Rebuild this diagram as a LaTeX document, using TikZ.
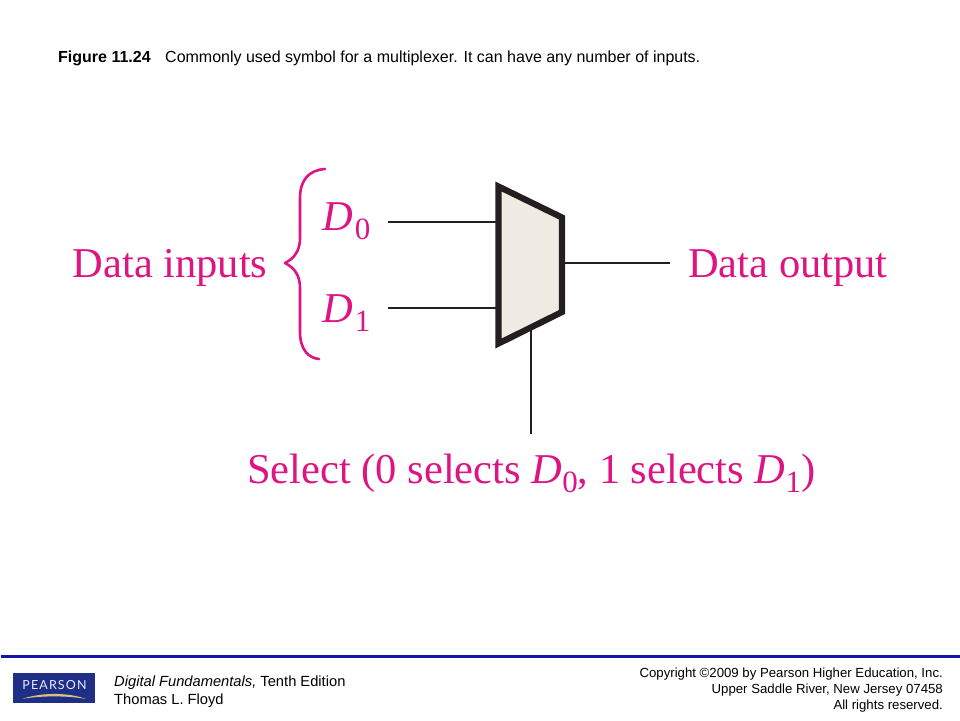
\documentclass[tikz,border=0pt]{standalone}
\usepackage{fontspec}
\setmainfont{Liberation Serif}
\newfontfamily\arialf{Liberation Sans}
\newfontfamily\logof[LetterSpace=9]{Lato}
\definecolor{pinkc}{HTML}{DC1583}
\definecolor{barblue}{HTML}{1515A5}
\definecolor{logoblue}{HTML}{1F2E86}
\definecolor{swoosh}{HTML}{D8C27A}
\definecolor{muxfill}{HTML}{F0EBE3}
\definecolor{inkc}{HTML}{231F20}
\newcommand{\subdigit}[1]{\kern1.5pt\raisebox{-0.22em}{\fontsize{31}{34}\selectfont #1}}
\tikzset{
  sansnote/.style={font=\arialf\fontsize{16}{18}\selectfont,inner sep=0pt,anchor=base west,text=black},
  footnote/.style={font=\arialf\fontsize{14.7}{17}\selectfont,inner sep=0pt,anchor=base west,text=black},
  rightnote/.style={font=\arialf\fontsize{13.2}{15}\selectfont,inner sep=0pt,anchor=base east,text=black},
  pinklabel/.style={font=\fontsize{42.5}{48}\selectfont,inner sep=0pt,anchor=base west,text=pinkc},
  wire/.style={draw=inkc,line width=2.5pt},
  muxbox/.style={draw=inkc,fill=muxfill,line width=6.2pt,line join=miter},
}
\begin{document}
\begin{tikzpicture}[x=1pt,y=-1pt]
\useasboundingbox (0,0) rectangle (960,720);
\fill[white] (0,0) rectangle (960,720);
% heading
\node[sansnote] (figno) at (58,62) {\bfseries Figure 11.24};
\node[sansnote] (caption) at (165,62) {Commonly used symbol for a multiplexer. It can have any number of inputs.};
% labels
\node[pinklabel] (datain) at (72.5,277) {Data inputs};
\node[pinklabel] (dzero) at (322.5,230) {\textit{D}\subdigit{0}};
\node[pinklabel] (done) at (322.5,322) {\textit{D}\subdigit{1}};
\node[pinklabel] (dataout) at (688,277) {Data output};
\node[pinklabel] (select) at (247,483) {Select (0 selects \textit{D}\raisebox{-0.22em}{\fontsize{31}{34}\selectfont 0}, 1 selects \textit{D}\raisebox{-0.22em}{\fontsize{31}{34}\selectfont 1})};
% brace
\draw[pinkc,line width=2.6pt,line cap=round,line join=round]
  (325,169) .. controls (309,170) and (300,180) .. (300,198)
  -- (300,238) .. controls (300,250) and (295,258) .. (285,263)
  .. controls (295,268) and (300,276) .. (300,288)
  -- (300,332) .. controls (300,349) and (308,358) .. (319,359);
% ports
\coordinate (in0) at (388,222);
\coordinate (in1) at (388,308);
\coordinate (out) at (670,263);
\coordinate (sel) at (531,434);
\coordinate (mux0) at (498,222);
\coordinate (mux1) at (498,308);
\coordinate (muxo) at (562,263);
\coordinate (muxs) at (531,328);
% wires
\draw[wire] (in0) -- (mux0);
\draw[wire] (in1) -- (mux1);
\draw[wire] (muxo) -- (out);
\draw[wire] (muxs) -- (sel);
% mux
\draw[muxbox] (498.5,186.5) -- (562,217.5) -- (562,312) -- (498.5,343.5) -- cycle;
% footer
\fill[barblue] (1,655) rectangle (960,658);
\fill[logoblue] (13,673) rectangle (95,703);
\node[font=\logof\fontsize{12.5}{13}\selectfont,text=white!92!blue,inner sep=0pt] (logo) at (54.5,685.5) {PEARSON};
\fill[swoosh] (22,699) .. controls (40,692.5) and (68,692) .. (86,699) .. controls (68,695.5) and (40,695.5) .. (22,699) -- cycle;
\node[footnote] (book) at (114,686) {\textit{Digital Fundamentals,} Tenth Edition};
\node[footnote] (author) at (114,704) {Thomas L. Floyd};
\node[rightnote] (copy1) at (943,677) {Copyright ©2009 by Pearson Higher Education, Inc.};
\node[rightnote] (copy2) at (943,693) {Upper Saddle River, New Jersey 07458};
\node[rightnote] (copy3) at (943,709) {All rights reserved.};
\end{tikzpicture}
\end{document}
